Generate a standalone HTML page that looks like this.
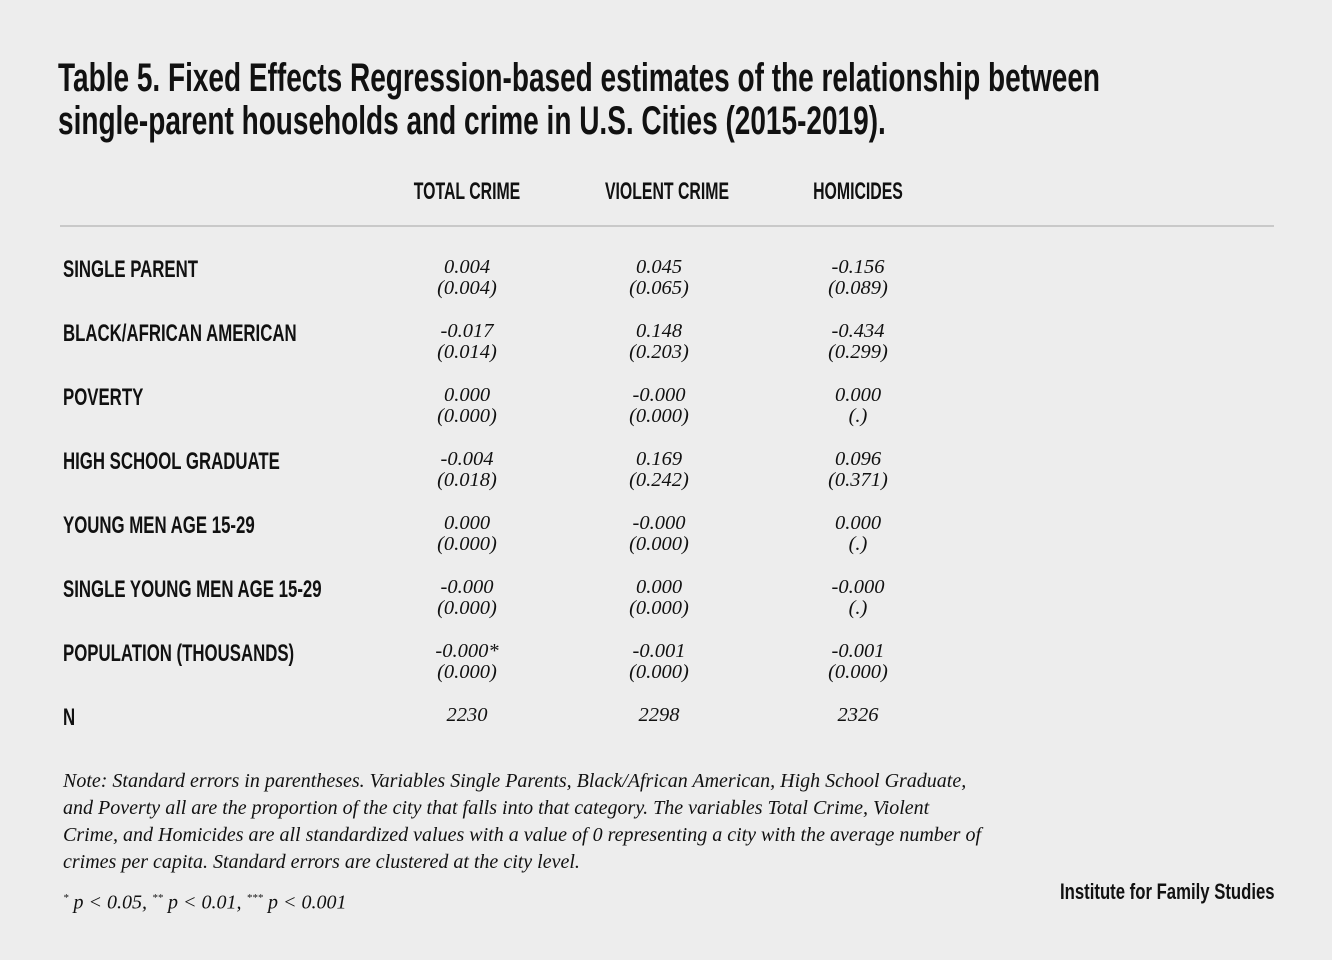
<!DOCTYPE html><html><head><style>
body{margin:0;width:1332px;height:960px;background:#ededed;position:relative;overflow:hidden;color:#111}
.c{position:absolute;font-family:"Liberation Sans",sans-serif;font-weight:bold;white-space:nowrap;transform-origin:left top}
.t{left:58px;font-size:40px;line-height:42px;transform:scaleX(0.70)}
.h{font-size:24px;top:178px;transform-origin:center top}
.l{left:63px;font-size:24px;transform:scaleX(0.70)}
.n{position:absolute;font-family:"Liberation Serif",serif;font-style:italic;font-size:20.5px;line-height:21px;text-align:center;width:140px;margin-left:-70px}
.note{position:absolute;left:63px;font-family:"Liberation Serif",serif;font-style:italic;font-size:20px;line-height:27px;white-space:nowrap}
</style></head><body>
<div class="c t" style="top:57px">Table 5. Fixed Effects Regression-based estimates of the relationship between</div>
<div class="c t" style="top:100px">single-parent households and crime in U.S. Cities (2015-2019).</div>
<div class="c h" style="left:367px;width:200px;text-align:center;transform:scaleX(0.66)">TOTAL CRIME</div>
<div class="c h" style="left:567px;width:200px;text-align:center;transform:scaleX(0.66)">VIOLENT CRIME</div>
<div class="c h" style="left:758px;width:200px;text-align:center;transform:scaleX(0.66)">HOMICIDES</div>
<div style="position:absolute;left:60px;top:225px;width:1214px;height:2px;background:#c9c9c9"></div>
<div class="c l" style="top:256px">SINGLE PARENT</div>
<div class="c l" style="top:320px">BLACK/AFRICAN AMERICAN</div>
<div class="c l" style="top:384px">POVERTY</div>
<div class="c l" style="top:448px">HIGH SCHOOL GRADUATE</div>
<div class="c l" style="top:512px">YOUNG MEN AGE 15-29</div>
<div class="c l" style="top:576px">SINGLE YOUNG MEN AGE 15-29</div>
<div class="c l" style="top:640px">POPULATION (THOUSANDS)</div>
<div class="c l" style="top:704px">N</div>

<div class="n" style="left:467px;top:257px">0.004<br>(0.004)</div>
<div class="n" style="left:659px;top:257px">0.045<br>(0.065)</div>
<div class="n" style="left:858px;top:257px">-0.156<br>(0.089)</div>
<div class="n" style="left:467px;top:321px">-0.017<br>(0.014)</div>
<div class="n" style="left:659px;top:321px">0.148<br>(0.203)</div>
<div class="n" style="left:858px;top:321px">-0.434<br>(0.299)</div>
<div class="n" style="left:467px;top:385px">0.000<br>(0.000)</div>
<div class="n" style="left:659px;top:385px">-0.000<br>(0.000)</div>
<div class="n" style="left:858px;top:385px">0.000<br>(.)</div>
<div class="n" style="left:467px;top:449px">-0.004<br>(0.018)</div>
<div class="n" style="left:659px;top:449px">0.169<br>(0.242)</div>
<div class="n" style="left:858px;top:449px">0.096<br>(0.371)</div>
<div class="n" style="left:467px;top:513px">0.000<br>(0.000)</div>
<div class="n" style="left:659px;top:513px">-0.000<br>(0.000)</div>
<div class="n" style="left:858px;top:513px">0.000<br>(.)</div>
<div class="n" style="left:467px;top:577px">-0.000<br>(0.000)</div>
<div class="n" style="left:659px;top:577px">0.000<br>(0.000)</div>
<div class="n" style="left:858px;top:577px">-0.000<br>(.)</div>
<div class="n" style="left:467px;top:641px">-0.000*<br>(0.000)</div>
<div class="n" style="left:659px;top:641px">-0.001<br>(0.000)</div>
<div class="n" style="left:858px;top:641px">-0.001<br>(0.000)</div>
<div class="n" style="left:467px;top:705px">2230</div>
<div class="n" style="left:659px;top:705px">2298</div>
<div class="n" style="left:858px;top:705px">2326</div>

<div class="note" style="top:768px">Note: Standard errors in parentheses. Variables Single Parents, Black/African American, High School Graduate,<br>and Poverty all are the proportion of the city that falls into that category. The variables Total Crime, Violent<br>Crime, and Homicides are all standardized values with a value of 0 representing a city with the average number of<br>crimes per capita. Standard errors are clustered at the city level.</div>
<div class="note" style="top:885px"><sup style="font-size:11px">*</sup> p &lt; 0.05, <sup style="font-size:11px">**</sup> p &lt; 0.01, <sup style="font-size:11px">***</sup> p &lt; 0.001</div>
<div class="c" style="left:1060px;top:879px;font-size:22px;transform:scaleX(0.76)">Institute for Family Studies</div>
</body></html>
